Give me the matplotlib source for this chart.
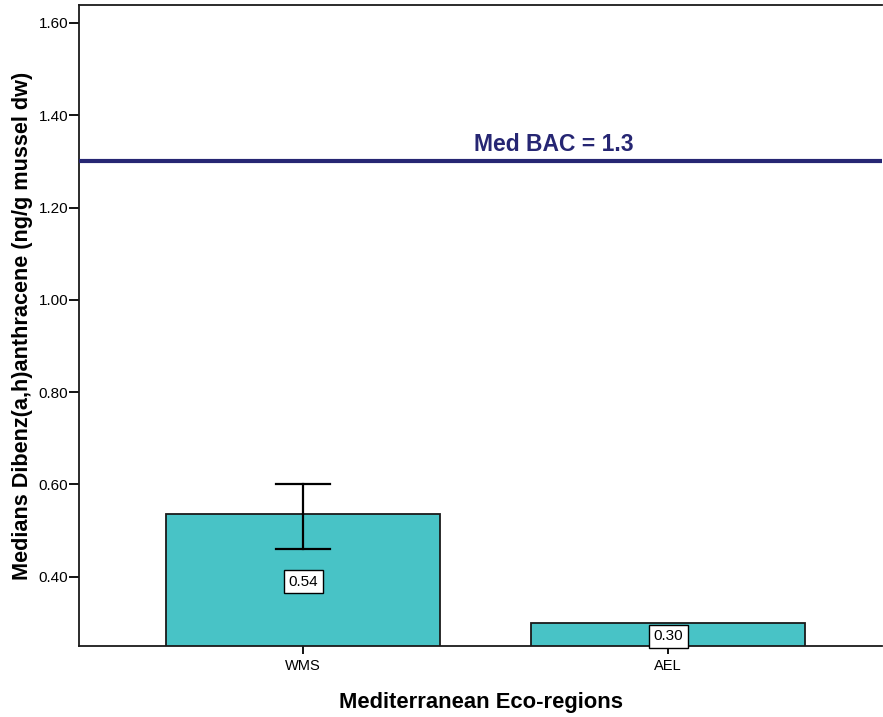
import matplotlib.pyplot as plt

plt.rcParams['font.family'] = ['Liberation Sans', 'DejaVu Sans']

regions = ['WMS', 'AEL']
medians = [0.536, 0.300]
labels = ['0.54', '0.30']
err_low = [0.46, None]
err_high = [0.60, None]
bac = 1.3
yticks = [0.40, 0.60, 0.80, 1.00, 1.20, 1.40, 1.60]

fig = plt.figure(figsize=(8.83, 7.17), dpi=100)
ax = fig.add_axes([79 / 883, 71 / 717, 803 / 883, 641 / 717])

x = list(range(len(regions)))
ax.bar(x, medians, width=0.75, bottom=0, color='#48c3c6', edgecolor='#1a1a1a', linewidth=1.3, zorder=2)

for i in x:
    if err_low[i] is not None:
        ax.plot([i, i], [err_low[i], err_high[i]], color='black', lw=1.6, zorder=3)
        for v in (err_low[i], err_high[i]):
            ax.plot([i - 0.075, i + 0.075], [v, v], color='black', lw=1.6, zorder=3)
    ymid = (0.25 + medians[i]) / 2 - 0.004
    ax.text(i, ymid, labels[i], ha='center', va='center', fontsize=11, zorder=4,
            bbox=dict(boxstyle='square,pad=0.3', facecolor='white', edgecolor='black', linewidth=1))

ax.axhline(bac, color='#262673', lw=3, zorder=3)
ax.text(0.687, bac + 0.012, 'Med BAC = 1.3', ha='center', va='bottom', fontsize=16.5,
        fontweight='bold', color='#262673')

ax.set_xlim(-0.614, 1.586)
ax.set_ylim(0.25, 1.639)
ax.set_yticks(yticks)
ax.set_yticklabels([f'{t:.2f}' for t in yticks])
ax.set_xticks(x)
ax.set_xticklabels(regions)
ax.tick_params(axis='y', direction='out', length=7.2, width=1.3, labelsize=11, pad=0.5)
ax.tick_params(axis='x', direction='out', length=6, width=1.3, labelsize=10.5, pad=3)

ax.spines['right'].set_visible(False)
for s in ('left', 'top', 'bottom'):
    ax.spines[s].set_linewidth(1.3)
    ax.spines[s].set_color('#1a1a1a')

ax.set_xlabel('Mediterranean Eco-regions', fontsize=15.8, fontweight='bold', labelpad=14)
ax.set_ylabel('Medians Dibenz(a,h)anthracene (ng/g mussel dw)', fontsize=15.6, fontweight='bold', labelpad=4)

fig.savefig('out.png', dpi=100)
